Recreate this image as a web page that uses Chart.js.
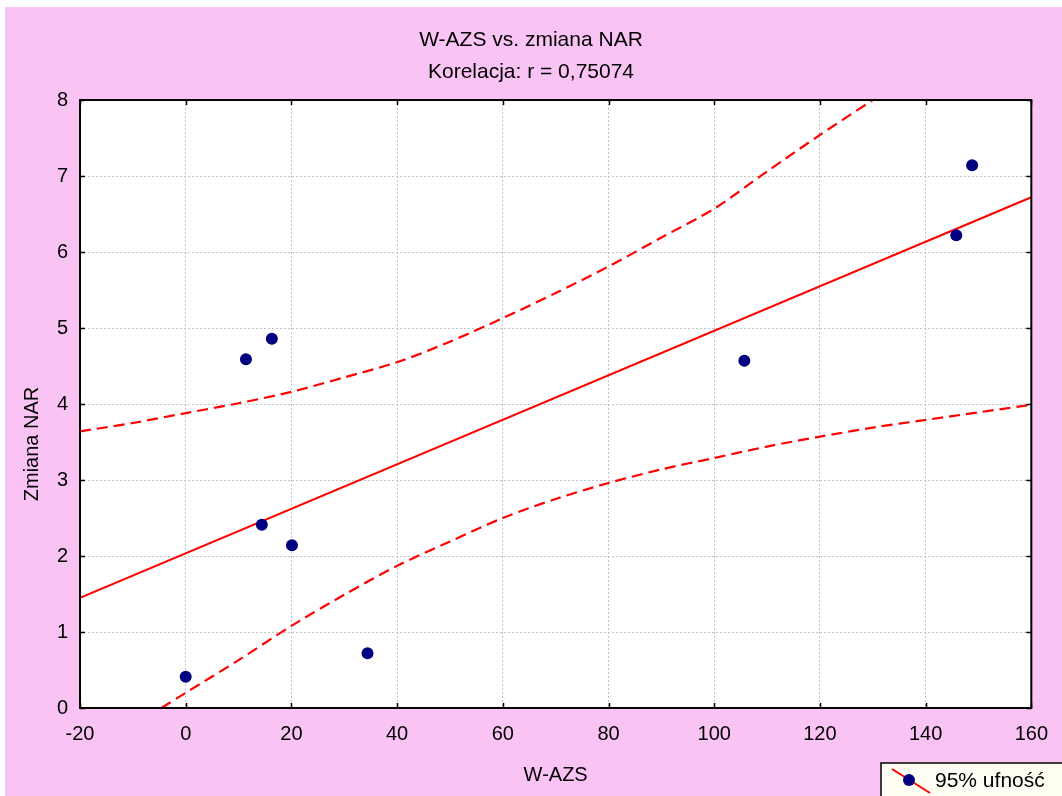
<!DOCTYPE html>
<html>
<head>
<meta charset="utf-8">
<script src="https://cdn.jsdelivr.net/npm/chart.js@4.4.0/dist/chart.umd.min.js"></script>
<style>
  html, body { margin: 0; padding: 0; background: #ffffff; }
  #wrap { width: 1062px; height: 796px; position: relative; }
</style>
</head>
<body>
<div id="wrap"><canvas id="c" width="1062" height="796"></canvas></div>
<script>
// Texts
const titleLines = ['W-AZS vs. zmiana NAR', 'Korelacja: r = 0,75074'];
const xAxisTitle = 'W-AZS';
const yAxisTitle = 'Zmiana NAR';
const legendLabel = '95% ufność';

// Observations
const wAZS      = [0, 11.4, 14.4, 16.3, 20.1, 34.4, 105.7, 145.8, 148.8];
const zmianaNAR = [0.41, 4.59, 2.41, 4.86, 2.14, 0.72, 4.57, 6.22, 7.14];

// Fitted regression line (end points)
const fitX = [-20, 160];
const fitY = [1.45, 6.72];

// 95% confidence band
const upperX = [-20, -10, 0, 10, 20, 30, 40, 50, 60, 70, 80, 90, 100, 110, 120, 130];
const upperY = [3.64, 3.75, 3.88, 4.01, 4.16, 4.35, 4.55, 4.82, 5.13, 5.46, 5.81, 6.19, 6.57, 7.06, 7.54, 8.0];
const lowerX = [-4.6, 0, 10, 20, 30, 40, 50, 60, 70, 80, 90, 100, 110, 120, 130, 140, 150, 160];
const lowerY = [0, 0.20, 0.63, 1.08, 1.49, 1.87, 2.19, 2.50, 2.75, 2.96, 3.14, 3.29, 3.44, 3.57, 3.69, 3.79, 3.89, 3.99];

// Axis ticks
const xTicks = [-20, 0, 20, 40, 60, 80, 100, 120, 140, 160];
const yTicks = [0, 1, 2, 3, 4, 5, 6, 7, 8];

const FONT = 'Liberation Sans, Arial, sans-serif';
const PINK = '#F9C4F4';
const RED = '#FF0000';
const NAVY = '#000080';

const toXY = (xs, ys) => xs.map((x, i) => ({ x: x, y: ys[i] }));

const framePlugin = {
  id: 'frame',
  beforeDraw(chart) {
    const ctx = chart.ctx, a = chart.chartArea;
    ctx.save();
    ctx.fillStyle = '#ffffff';
    ctx.fillRect(0, 0, chart.width, chart.height);
    ctx.fillStyle = PINK;
    ctx.fillRect(5, 7, chart.width - 5, chart.height - 7);
    ctx.fillStyle = '#ffffff';
    ctx.fillRect(a.left, a.top, a.right - a.left, a.bottom - a.top);
    ctx.restore();
  },
  afterDraw(chart) {
    const ctx = chart.ctx, a = chart.chartArea;
    const sx = chart.scales.x, sy = chart.scales.y;
    ctx.save();
    // plot frame
    ctx.strokeStyle = '#000';
    ctx.lineWidth = 2;
    ctx.strokeRect(a.left, a.top, a.right - a.left, a.bottom - a.top);
    // inward tick marks on all four sides
    ctx.lineWidth = 1.5;
    ctx.beginPath();
    xTicks.forEach(v => {
      const px = Math.round(sx.getPixelForValue(v)) + 0.5;
      ctx.moveTo(px, a.bottom); ctx.lineTo(px, a.bottom - 5);
      ctx.moveTo(px, a.top); ctx.lineTo(px, a.top + 5);
    });
    yTicks.forEach(v => {
      const py = Math.round(sy.getPixelForValue(v)) + 0.5;
      ctx.moveTo(a.left, py); ctx.lineTo(a.left + 5, py);
      ctx.moveTo(a.right, py); ctx.lineTo(a.right - 5, py);
    });
    ctx.stroke();

    // titles
    ctx.fillStyle = '#000';
    ctx.textAlign = 'center';
    ctx.textBaseline = 'middle';
    ctx.font = '21px ' + FONT;
    ctx.fillText(titleLines[0], chart.width / 2, 40);
    ctx.fillText(titleLines[1], chart.width / 2, 72);

    // axis titles
    ctx.font = '20px ' + FONT;
    ctx.fillText(xAxisTitle, (a.left + a.right) / 2, 775);
    ctx.save();
    ctx.translate(32, 444);
    ctx.rotate(-Math.PI / 2);
    ctx.fillText(yAxisTitle, 0, 0);
    ctx.restore();

    // legend box
    ctx.fillStyle = '#FFFEF2';
    ctx.fillRect(881, 763, 200, 60);
    ctx.strokeStyle = '#000';
    ctx.lineWidth = 1.5;
    ctx.strokeRect(881, 763, 200, 60);
    ctx.strokeStyle = RED;
    ctx.lineWidth = 2;
    ctx.beginPath();
    ctx.moveTo(892, 769); ctx.lineTo(930, 793);
    ctx.stroke();
    ctx.fillStyle = NAVY;
    ctx.beginPath();
    ctx.arc(909, 780, 6, 0, Math.PI * 2);
    ctx.fill();
    ctx.fillStyle = '#000';
    ctx.textAlign = 'left';
    ctx.font = '21px ' + FONT;
    ctx.fillText(legendLabel, 935, 781);
    ctx.restore();
  }
};

new Chart(document.getElementById('c'), {
  type: 'scatter',
  data: {
    datasets: [
      {
        label: 'obserwacje',
        data: toXY(wAZS, zmianaNAR),
        backgroundColor: NAVY,
        borderColor: NAVY,
        pointRadius: 6,
        pointBorderWidth: 0,
        showLine: false
      },
      {
        label: 'regresja',
        data: toXY(fitX, fitY),
        showLine: true,
        borderColor: RED,
        borderWidth: 2,
        pointRadius: 0,
        fill: false,
        clip: 0
      },
      {
        label: legendLabel,
        data: toXY(upperX, upperY),
        showLine: true,
        borderColor: RED,
        borderWidth: 2.2,
        borderDash: [11, 6],
        pointRadius: 0,
        fill: false,
        tension: 0.3,
        clip: 0
      },
      {
        label: legendLabel + ' (dolna)',
        data: toXY(lowerX, lowerY),
        showLine: true,
        borderColor: RED,
        borderWidth: 2.2,
        borderDash: [11, 6],
        pointRadius: 0,
        fill: false,
        tension: 0.3,
        clip: 0
      }
    ]
  },
  options: {
    responsive: false,
    animation: false,
    devicePixelRatio: 1,
    layout: { padding: { top: 100, right: 30, bottom: 0, left: 0 } },
    plugins: {
      legend: { display: false },
      title: { display: false },
      tooltip: { enabled: false }
    },
    scales: {
      x: {
        type: 'linear',
        min: -20,
        max: 160,
        afterBuildTicks: s => { s.ticks = xTicks.map(v => ({ value: v })); },
        afterFit: s => { s.height = 88; },
        grid: { color: '#c4c4c4', lineWidth: 1, drawTicks: false },
        border: { display: false, dash: [2, 2] },
        ticks: { font: { family: FONT, size: 20 }, color: '#000', padding: 14, maxRotation: 0, autoSkip: false }
      },
      y: {
        type: 'linear',
        min: 0,
        max: 8,
        afterBuildTicks: s => { s.ticks = yTicks.map(v => ({ value: v })); },
        afterFit: s => { s.width = 80; },
        grid: { color: '#c4c4c4', lineWidth: 1, drawTicks: false },
        border: { display: false, dash: [2, 2] },
        ticks: { font: { family: FONT, size: 20 }, color: '#000', padding: 12, autoSkip: false }
      }
    }
  },
  plugins: [framePlugin]
});
</script>
</body>
</html>
